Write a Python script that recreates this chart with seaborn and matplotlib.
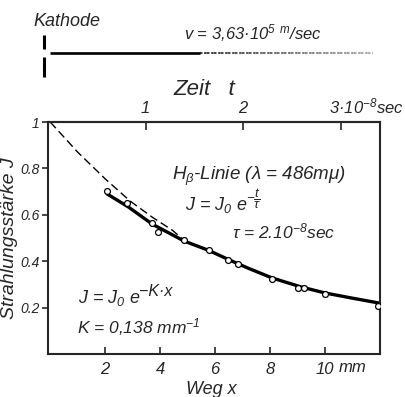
import matplotlib
matplotlib.use("Agg")
import matplotlib.pyplot as plt
import seaborn as sns
import pandas as pd
from matplotlib import font_manager as fm
from matplotlib.transforms import ScaledTranslation

# ---------------- data ----------------
# measured points: path x (mm) and intensity J
point_x = [2.07, 2.80, 3.71, 3.93, 4.87, 5.78, 6.47, 6.84, 8.07, 9.02, 9.24, 10.0, 11.93]
point_y = [0.703, 0.651, 0.565, 0.526, 0.491, 0.448, 0.405, 0.388, 0.323, 0.284, 0.284, 0.259, 0.207]

# solid fitted curve
fit_x = [2.07, 2.84, 3.71, 4.87, 5.78, 6.47, 7.20, 8.07, 9.13, 10.0, 10.98, 11.95]
fit_y = [0.690, 0.634, 0.560, 0.487, 0.446, 0.408, 0.370, 0.328, 0.289, 0.263, 0.241, 0.220]

# dashed extrapolation
dash_x = [0.0, 1.0, 2.0, 2.9, 3.71, 4.44, 4.87]
dash_y = [1.0, 0.87, 0.755, 0.66, 0.59, 0.534, 0.49]

x_ticks = [2, 4, 6, 8, 10]
x_tick_labels = ["2", "4", "6", "8", "10"]
y_ticks = [0.2, 0.4, 0.6, 0.8, 1.0]
y_tick_labels = ["0.2", "0.4", "0.6", "0.8", "1"]
t_ticks = [1, 2, 3]
t_tick_labels = ["1", "2", "3·10$^{-8}$sec"]
mm_per_time_unit = 3.55   # spacing of the time ticks on the drawing (mm per 1e-8 s)

# ---------------- style ----------------
sns.set_style("ticks")


def pick_font():
    for name in ["Liberation Sans", "Arimo", "DejaVu Sans"]:
        try:
            fm.findfont(fm.FontProperties(family=name), fallback_to_default=False)
            return name
        except Exception:
            pass
    return "DejaVu Sans"


FONT = pick_font()
plt.rcParams["font.family"] = [FONT, "DejaVu Sans"]
plt.rcParams["font.style"] = "italic"
plt.rcParams["mathtext.fontset"] = "custom"
plt.rcParams["mathtext.rm"] = f"{FONT}:italic"
plt.rcParams["mathtext.it"] = f"{FONT}:italic"
plt.rcParams["mathtext.sf"] = f"{FONT}:italic"
plt.rcParams["mathtext.default"] = "it"

W, H = 406, 397
fig = plt.figure(figsize=(W / 100, H / 100), dpi=100)


def px(x, y):
    return x / W, 1 - y / H


# decorative strip on top (cathode + beam)
deco = fig.add_axes([0, 0, 1, 1], zorder=-1)
deco.set_xlim(0, W)
deco.set_ylim(H, 0)
deco.axis("off")
deco.plot([44, 44], [35, 49], color="black", lw=2.2, solid_capstyle="butt")
deco.plot([44, 44], [57, 77], color="black", lw=2.2, solid_capstyle="butt")
deco.plot([50, 200], [53, 53], color="black", lw=1.9, solid_capstyle="butt")
start = 200
while start < 373:
    frac = (start - 200) / 173
    deco.plot([start, min(start + 7, 373)], [53, 53], color="black",
              lw=1.5, alpha=0.75 - 0.45 * frac, linestyle=(0, (1.2, 0.8)),
              solid_capstyle="butt")
    start += 7

fig.text(*px(67, 21), "Kathode", fontsize=13, ha="center", va="center")
fig.text(*px(253, 33), "v = 3,63·10$^{5}$ $^{m}$/sec", fontsize=12, ha="center", va="center")

# ---------------- main axes ----------------
ax = fig.add_axes([48 / W, 1 - 354 / H, (380 - 48) / W, (354 - 122) / H])

df_dash = pd.DataFrame({"x": dash_x, "J": dash_y})
df_fit = pd.DataFrame({"x": fit_x, "J": fit_y})
df_pts = pd.DataFrame({"x": point_x, "J": point_y})

sns.lineplot(data=df_dash, x="x", y="J", ax=ax, color="black", lw=1.0,
             linestyle=(0, (6, 3)))
sns.lineplot(data=df_fit, x="x", y="J", ax=ax, color="black", lw=2.4)
sns.scatterplot(data=df_pts, x="x", y="J", ax=ax, marker="o", s=18,
                facecolor="white", edgecolor="black", linewidth=0.9, zorder=5)

X0, X1 = -0.08, 12.0
ax.set_xlim(X0, X1)
ax.set_ylim(0, 1)
ax.set_xticks(x_ticks)
ax.set_xticklabels(x_tick_labels, fontsize=12)
ax.set_yticks(y_ticks)
ax.set_yticklabels(y_tick_labels, fontsize=10)
ax.tick_params(axis="x", direction="in", length=5, width=1.2, pad=6)
ax.tick_params(axis="y", direction="out", length=4, width=1.2, pad=2)
for s in ax.spines.values():
    s.set_linewidth(1.5)
    s.set_visible(True)

ax.set_xlabel("Weg x", fontsize=13)
ax.xaxis.set_label_coords((211 - 48) / 332, -(389 - 354) / 232)
ax.xaxis.label.set_va("center")
ax.set_ylabel("Strahlungsstärke J", fontsize=14, labelpad=2)

fig.text(*px(339, 368), "mm", fontsize=12, ha="left", va="center")

# top time axis
sec = ax.secondary_xaxis("top", functions=(lambda x: (x - X0) / mm_per_time_unit,
                                           lambda t: t * mm_per_time_unit + X0))
sec.set_xticks(t_ticks)
sec.set_xticklabels(t_tick_labels, fontsize=12)
sec.tick_params(direction="in", length=6, width=1.2, pad=4)
sec.spines["top"].set_linewidth(1.5)
lab = sec.get_xticklabels()[-1]
lab.set_ha("left")
lab.set_transform(lab.get_transform() + ScaledTranslation(-12 / 100, 0, fig.dpi_scale_trans))
sec.set_xlabel("Zeit   t", fontsize=16)
sec.xaxis.set_label_coords((204 - 48) / 332, 1 + (122 - 89) / 232, transform=ax.transAxes)
sec.xaxis.label.set_va("center")

# annotations
fig.text(*px(172, 180), r"H$_{\beta}$-Linie (λ = 486m$\mu$)", fontsize=13.5, ha="left", va="baseline")
fig.text(*px(185, 210), r"J = J$_{0}$ e", fontsize=13, ha="left", va="baseline")
fig.text(*px(246, 199), r"$-\dfrac{t}{\tau}$", fontsize=9.5, ha="left", va="center")
fig.text(*px(232, 238), r"$\tau$ = 2.10$^{-8}$sec", fontsize=12.5, ha="left", va="baseline")
fig.text(*px(78, 303), r"J = J$_{0}$ e", fontsize=13, ha="left", va="baseline")
fig.text(*px(139, 296), "−K·x", fontsize=11.5, ha="left", va="baseline")
fig.text(*px(77, 333), r"K = 0,138 mm$^{-1}$", fontsize=12.5, ha="left", va="baseline")

fig.savefig("out.png", dpi=100)
